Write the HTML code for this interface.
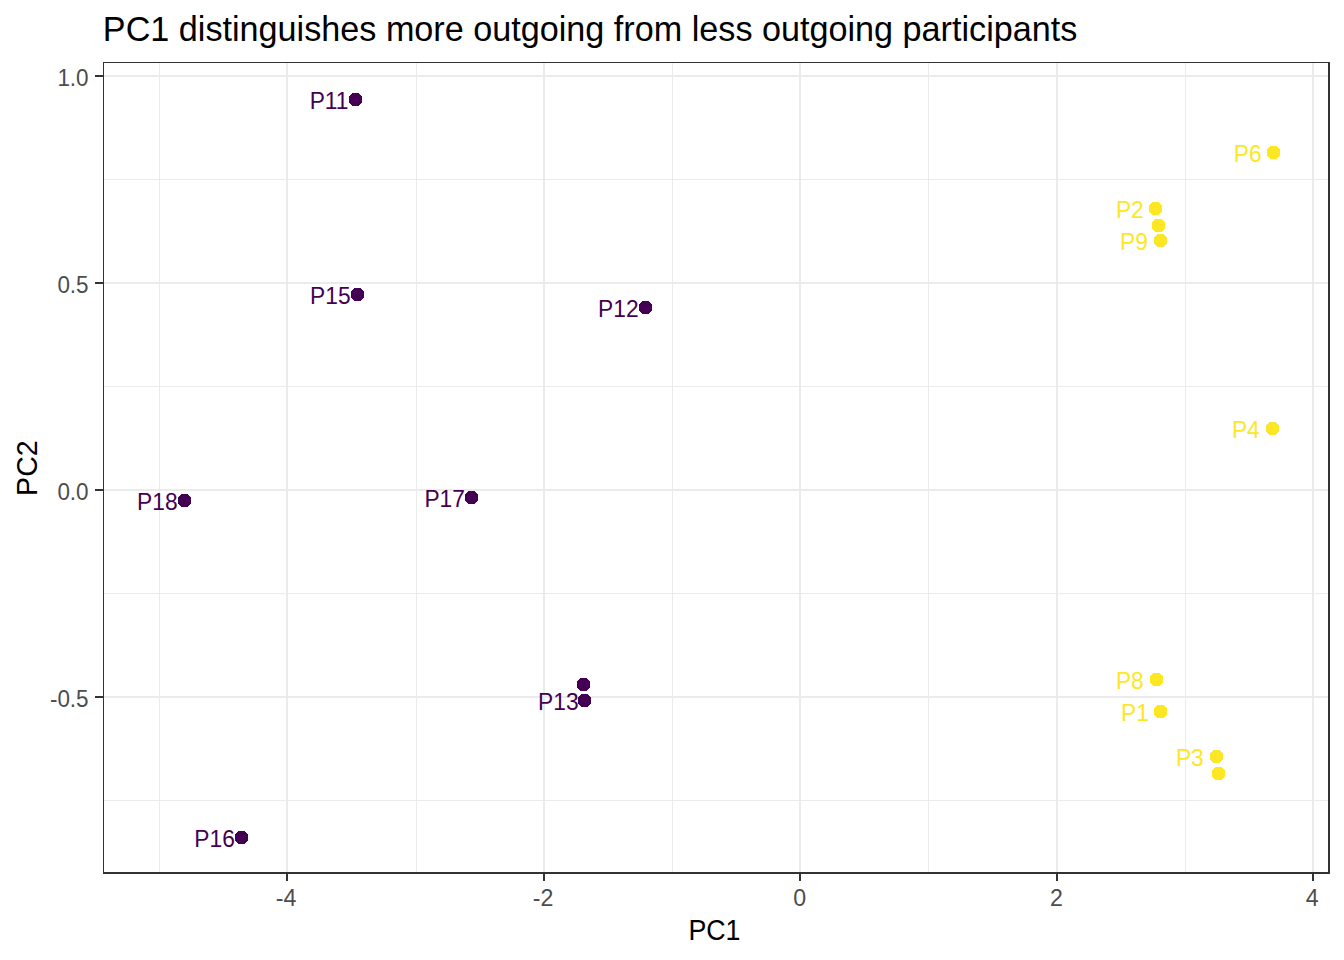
<!DOCTYPE html>
<html lang="en"><head><meta charset="utf-8"><title>PC1 distinguishes more outgoing from less outgoing participants</title>
<style>html,body{margin:0;padding:0;background:#fff;}body{width:1344px;height:960px;overflow:hidden;}svg{display:block;}text{font-family:"Liberation Sans",Arial,sans-serif;}</style></head><body>
<svg width="1344" height="960" viewBox="0 0 1344 960">
<rect x="0" y="0" width="1344" height="960" fill="#ffffff"/>
<g shape-rendering="crispEdges" fill="#EBEBEB">
<rect x="159" y="62" width="1" height="812"/>
<rect x="416" y="62" width="1" height="812"/>
<rect x="672" y="62" width="1" height="812"/>
<rect x="928" y="62" width="1" height="812"/>
<rect x="1185" y="62" width="1" height="812"/>
<rect x="103" y="179" width="1227" height="1"/>
<rect x="103" y="386" width="1227" height="1"/>
<rect x="103" y="593" width="1227" height="1"/>
<rect x="103" y="800" width="1227" height="1"/>
<rect x="286" y="62" width="2" height="812"/>
<rect x="543" y="62" width="2" height="812"/>
<rect x="799" y="62" width="2" height="812"/>
<rect x="1056" y="62" width="2" height="812"/>
<rect x="1312" y="62" width="2" height="812"/>
<rect x="103" y="75" width="1227" height="2"/>
<rect x="103" y="282" width="1227" height="2"/>
<rect x="103" y="489" width="1227" height="2"/>
<rect x="103" y="696" width="1227" height="2"/>
</g>
<g shape-rendering="crispEdges">
<polygon points="352.5,93 358.5,93 362,96.5 362,102.5 358.5,106 352.5,106 349,102.5 349,96.5" fill="#440154"/>
<polygon points="354.5,288 360.5,288 364,291.5 364,297.5 360.5,301 354.5,301 351,297.5 351,291.5" fill="#440154"/>
<polygon points="642.5,301 648.5,301 652,304.5 652,310.5 648.5,314 642.5,314 639,310.5 639,304.5" fill="#440154"/>
<polygon points="181.5,494 187.5,494 191,497.5 191,503.5 187.5,507 181.5,507 178,503.5 178,497.5" fill="#440154"/>
<polygon points="468.5,491 474.5,491 478,494.5 478,500.5 474.5,504 468.5,504 465,500.5 465,494.5" fill="#440154"/>
<polygon points="581.5,694 587.5,694 591,697.5 591,703.5 587.5,707 581.5,707 578,703.5 578,697.5" fill="#440154"/>
<polygon points="580.5,678 586.5,678 590,681.5 590,687.5 586.5,691 580.5,691 577,687.5 577,681.5" fill="#440154"/>
<polygon points="238.5,831 244.5,831 248,834.5 248,840.5 244.5,844 238.5,844 235,840.5 235,834.5" fill="#440154"/>
<polygon points="1270.5,146 1276.5,146 1280,149.5 1280,155.5 1276.5,159 1270.5,159 1267,155.5 1267,149.5" fill="#FDE725"/>
<polygon points="1152.5,202 1158.5,202 1162,205.5 1162,211.5 1158.5,215 1152.5,215 1149,211.5 1149,205.5" fill="#FDE725"/>
<polygon points="1155.5,219 1161.5,219 1165,222.5 1165,228.5 1161.5,232 1155.5,232 1152,228.5 1152,222.5" fill="#FDE725"/>
<polygon points="1157.5,234 1163.5,234 1167,237.5 1167,243.5 1163.5,247 1157.5,247 1154,243.5 1154,237.5" fill="#FDE725"/>
<polygon points="1269.5,422 1275.5,422 1279,425.5 1279,431.5 1275.5,435 1269.5,435 1266,431.5 1266,425.5" fill="#FDE725"/>
<polygon points="1153.5,673 1159.5,673 1163,676.5 1163,682.5 1159.5,686 1153.5,686 1150,682.5 1150,676.5" fill="#FDE725"/>
<polygon points="1157.5,705 1163.5,705 1167,708.5 1167,714.5 1163.5,718 1157.5,718 1154,714.5 1154,708.5" fill="#FDE725"/>
<polygon points="1213.5,750 1219.5,750 1223,753.5 1223,759.5 1219.5,763 1213.5,763 1210,759.5 1210,753.5" fill="#FDE725"/>
<polygon points="1215.5,767 1221.5,767 1225,770.5 1225,776.5 1221.5,780 1215.5,780 1212,776.5 1212,770.5" fill="#FDE725"/>
</g>
<g font-size="23.5" text-anchor="middle">
<text transform="translate(329.1,108.8) scale(0.97,1)" fill="#440154">P11</text>
<text transform="translate(330.29,303.8) scale(0.97,1)" fill="#440154">P15</text>
<text transform="translate(618.39,316.8) scale(0.97,1)" fill="#440154">P12</text>
<text transform="translate(157.39,509.8) scale(0.97,1)" fill="#440154">P18</text>
<text transform="translate(444.69,506.8) scale(0.97,1)" fill="#440154">P17</text>
<text transform="translate(558.39,709.8) scale(0.97,1)" fill="#440154">P13</text>
<text transform="translate(214.59,846.8) scale(0.97,1)" fill="#440154">P16</text>
<text transform="translate(1247.7,161.8) scale(0.97,1)" fill="#FDE725">P6</text>
<text transform="translate(1129.85,217.8) scale(0.97,1)" fill="#FDE725">P2</text>
<text transform="translate(1133.95,249.8) scale(0.97,1)" fill="#FDE725">P9</text>
<text transform="translate(1245.85,437.8) scale(0.97,1)" fill="#FDE725">P4</text>
<text transform="translate(1129.85,688.8) scale(0.97,1)" fill="#FDE725">P8</text>
<text transform="translate(1135.05,720.8) scale(0.97,1)" fill="#FDE725">P1</text>
<text transform="translate(1189.85,765.8) scale(0.97,1)" fill="#FDE725">P3</text>
</g>
<g shape-rendering="crispEdges" fill="#333333">
<rect x="103" y="62" width="1227" height="1"/>
<rect x="103" y="62" width="1" height="812"/>
<rect x="103" y="872" width="1227" height="2"/>
<rect x="1328" y="62" width="2" height="812"/>
<rect x="286" y="874" width="2" height="7"/>
<rect x="543" y="874" width="2" height="7"/>
<rect x="799" y="874" width="2" height="7"/>
<rect x="1056" y="874" width="2" height="7"/>
<rect x="1312" y="874" width="2" height="7"/>
<rect x="95" y="75" width="8" height="2"/>
<rect x="95" y="282" width="8" height="2"/>
<rect x="95" y="489" width="8" height="2"/>
<rect x="95" y="696" width="8" height="2"/>
</g>
<g font-size="23.2" fill="#4D4D4D">
<text x="286" y="905.5" text-anchor="middle">-4</text>
<text x="543" y="905.5" text-anchor="middle">-2</text>
<text x="799.7" y="905.5" text-anchor="middle">0</text>
<text x="1056.5" y="905.5" text-anchor="middle">2</text>
<text x="1312.2" y="905.5" text-anchor="middle">4</text>
<text transform="translate(88.6,86.2) scale(0.968,1)" text-anchor="end">1.0</text>
<text transform="translate(88.6,293.2) scale(0.968,1)" text-anchor="end">0.5</text>
<text transform="translate(88.6,500.2) scale(0.968,1)" text-anchor="end">0.0</text>
<text transform="translate(88.6,707.2) scale(0.968,1)" text-anchor="end">-0.5</text>
</g>
<g transform="translate(102.85,40.7) scale(0.971,1)"><text x="0" y="0" font-size="35.2" fill="#000000">PC1 distinguishes more outgoing from less outgoing participants</text></g>
<g transform="translate(714.4,939.5) scale(0.912,1)"><text x="0" y="0" font-size="29.33" fill="#000000" text-anchor="middle">PC1</text></g>
<g transform="translate(37.2,468.1) rotate(-90) scale(0.94,1)"><text x="0" y="0" font-size="30.4" fill="#000000" text-anchor="middle">PC2</text></g>
</svg></body></html>
